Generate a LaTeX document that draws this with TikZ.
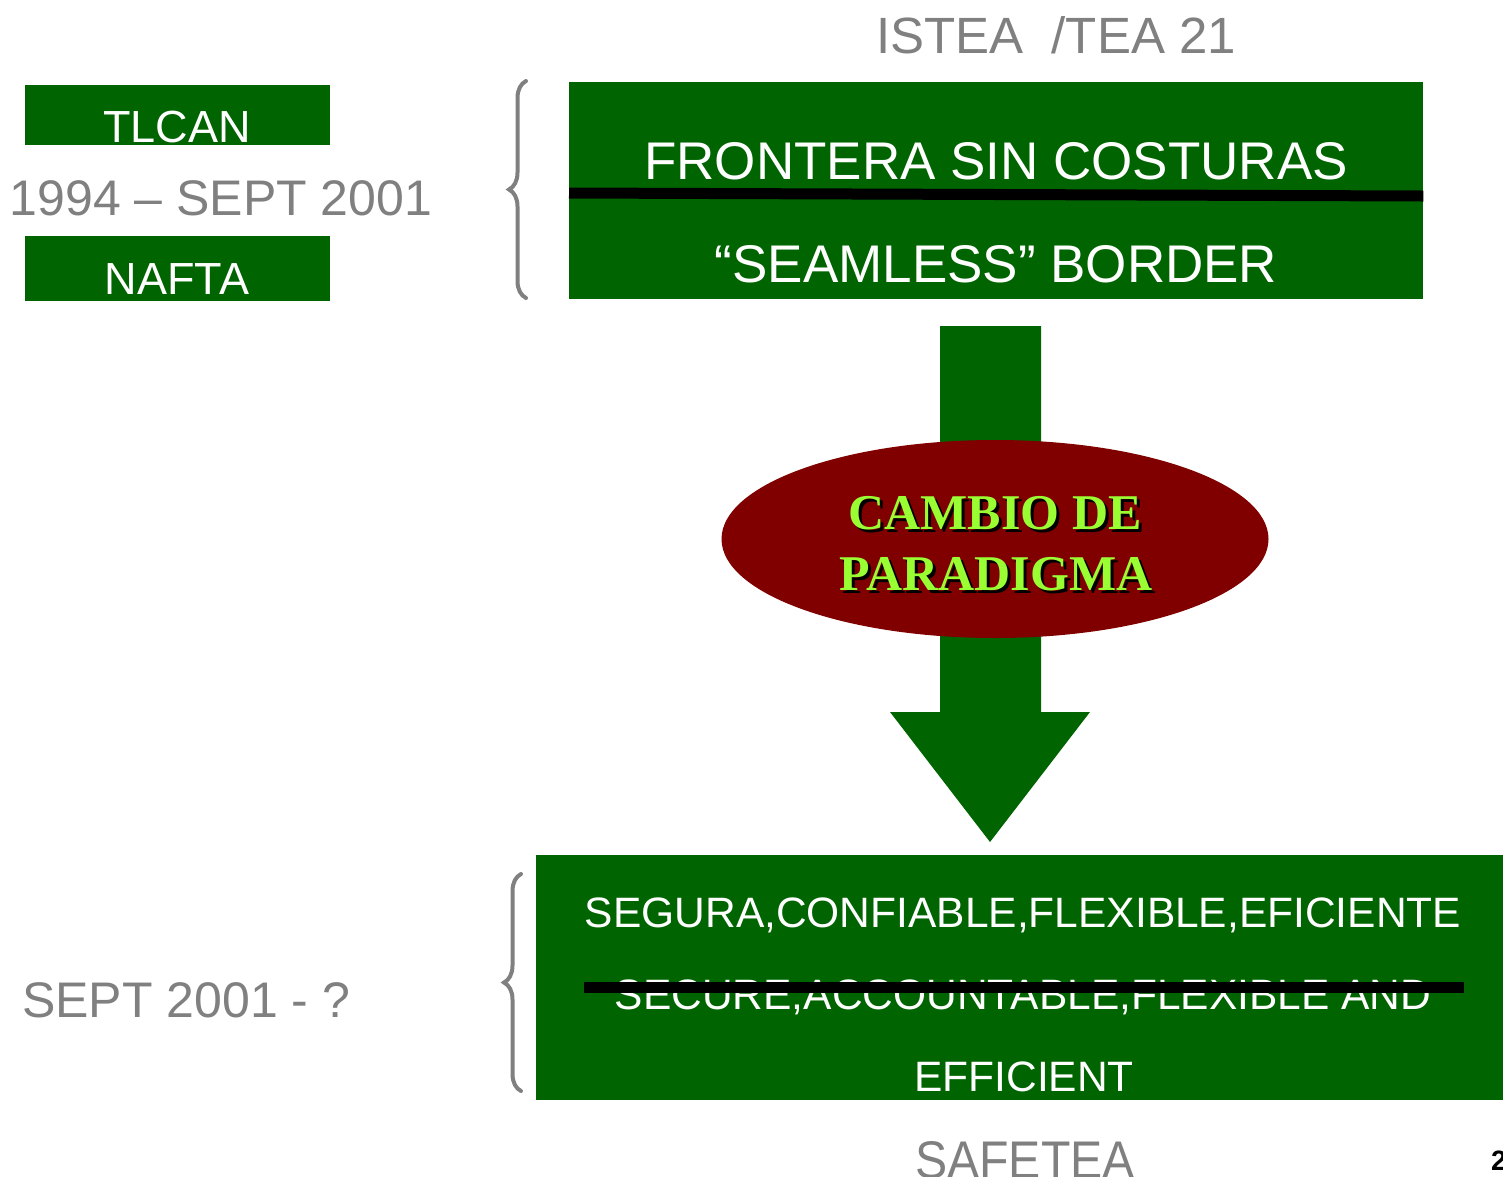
\documentclass[tikz,border=0pt]{standalone}
\usepackage{fontspec}
\setmainfont{Liberation Sans}
\newfontfamily\paradigmfont{Liberation Serif}
\usetikzlibrary{shapes,decorations.pathreplacing}
\definecolor{boxgreen}{RGB}{0,100,0}
\definecolor{labelgray}{RGB}{128,128,128}
\definecolor{ovalred}{RGB}{128,0,0}
\definecolor{limegreen}{RGB}{153,255,51}
\newcommand{\fsz}[1]{\fontsize{#1}{#1}\selectfont}
\tikzset{
 greenbox/.style={fill=boxgreen, draw=none, inner sep=0pt, anchor=north west},
 boxtext/.style={white, anchor=base, inner sep=0pt},
 graylabel/.style={labelgray, anchor=base, inner sep=0pt},
 curly/.style={labelgray, line width=4pt, line cap=round, decorate, decoration={brace, amplitude=17pt}},
 strikebar/.style={black, line width=11pt},
 paratext/.style={limegreen, anchor=base, inner sep=0pt, font=\paradigmfont\bfseries\fsz{50}},
 parashadow/.style={black, anchor=base, inner sep=0pt, font=\paradigmfont\bfseries\fsz{50}},
}
\begin{document}
\begin{tikzpicture}[x=1pt,y=-1pt]
 \useasboundingbox (0,0) rectangle (1503,1176);
 \node[graylabel, font=\fsz{51}] (istea) at (1056,53) {ISTEA\ \ /TEA 21};
 \node[greenbox, minimum width=305pt, minimum height=60pt] (tlcanbox) at (25,85) {};
 \node[greenbox, minimum width=305pt, minimum height=65pt] (naftabox) at (25,236) {};
 \node[boxtext, font=\fsz{45}] (tlcan) at (177,142) {TLCAN};
 \node[boxtext, font=\fsz{45}] (nafta) at (177,294) {NAFTA};
 \node[graylabel, font=\fsz{50}] (period1) at (221,215) {1994 -- SEPT 2001};
 \coordinate (brace1a) at (526,298);
 \coordinate (brace1b) at (526,81);
 \draw[curly] (brace1a) -- (brace1b);
 \node[greenbox, minimum width=854pt, minimum height=217pt] (seamless) at (569,82) {};
 \node[boxtext, font=\fsz{53}] (frontera) at (996,179) {FRONTERA SIN COSTURAS};
 \node[boxtext, font=\fsz{53}] (border) at (996,282) {“SEAMLESS” BORDER};
 \draw[strikebar] (seamless.west |- 0,193) -- (seamless.east |- 0,196);
 \fill[boxgreen] (940,326) -- (1041,326) -- (1041,712) -- (1090,712) -- (990,842) -- (890,712) -- (940,712) -- cycle;
 \node[ellipse, fill=ovalred, inner sep=0pt, minimum width=547pt, minimum height=198pt] (paradigm) at (995,539) {};
 \node[parashadow] (cambios) at (998,532) {CAMBIO DE};
 \node[paratext] (cambio) at (995,529) {CAMBIO DE};
 \node[parashadow] (paradigmas) at (999,593) {PARADIGMA};
 \node[paratext] (paradigma) at (996,590) {PARADIGMA};
 \node[greenbox, minimum width=967pt, minimum height=245pt] (secure) at (536,855) {};
 \node[boxtext, font=\fsz{42.5}] (segura) at (1023,927) {SEGURA,CONFIABLE,FLEXIBLE,EFICIENTE};
 \node[boxtext, font=\fsz{42.5}] (accountable) at (1023,1009) {SECURE,ACCOUNTABLE,FLEXIBLE AND};
 \node[boxtext, font=\fsz{42.5}] (efficient) at (1024,1091) {EFFICIENT};
 \draw[strikebar] (584,987) -- (1464,987);
 \coordinate (brace2a) at (521,1091);
 \coordinate (brace2b) at (521,874);
 \draw[curly] (brace2a) -- (brace2b);
 \node[graylabel, anchor=base west, font=\fsz{50}] (period2) at (22,1017) {SEPT 2001 - ?};
 \node[graylabel, xscale=0.91, font=\fsz{53}] (safetea) at (1025,1178) {SAFETEA};
 \node[black, anchor=base west, inner sep=0pt, font=\bfseries\fsz{28}] (pagenum) at (1491,1170) {2};
\end{tikzpicture}
\end{document}
